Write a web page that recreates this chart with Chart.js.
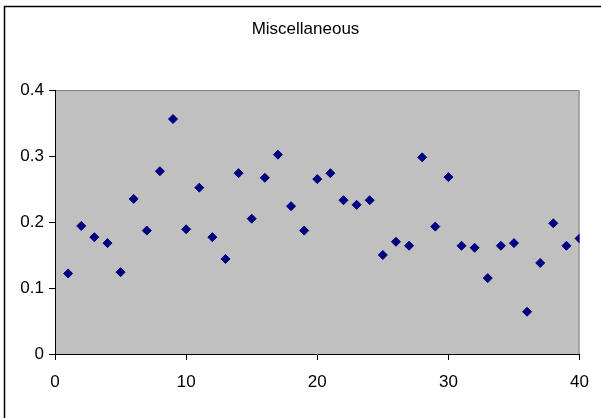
<!DOCTYPE html>
<html>
<head>
<meta charset="utf-8">
<script src="https://cdn.jsdelivr.net/npm/chart.js@4/dist/chart.umd.min.js"></script>
<style>
  html, body { margin: 0; padding: 0; background: #fff; }
  #wrap { width: 601px; height: 418px; }
</style>
</head>
<body>
<div id="wrap"><canvas id="chart" width="601" height="418"></canvas></div>
<script>
// sample index and measured value
let sampleNo = [1, 2, 3, 4, 5, 6, 7, 8, 9, 10,
                11, 12, 13, 14, 15, 16, 17, 18, 19, 20,
                21, 22, 23, 24, 25, 26, 27, 28, 29, 30,
                31, 32, 33, 34, 35, 36, 37, 38, 39, 40];
let values = [0.122, 0.194, 0.177, 0.168, 0.124, 0.235, 0.187, 0.277, 0.356, 0.189,
              0.252, 0.177, 0.144, 0.274, 0.205, 0.267, 0.302, 0.224, 0.187, 0.265,
              0.274, 0.233, 0.226, 0.233, 0.150, 0.170, 0.164, 0.298, 0.193, 0.268,
              0.164, 0.161, 0.115, 0.164, 0.168, 0.064, 0.138, 0.198, 0.164, 0.175];
let xTicks = [0, 10, 20, 30, 40];
let yTicks = [0, 0.1, 0.2, 0.3, 0.4];
let chartTitle = 'Miscellaneous';

const FONT = "'Liberation Sans', Arial, sans-serif";

// grey plot area with a light frame, the outer chart frame and the title
const plotArea = {
    id: 'plotArea',
    beforeDraw(chart) {
        const { ctx, chartArea: a } = chart;
        ctx.save();
        ctx.fillStyle = '#c0c0c0';
        ctx.fillRect(a.left, a.top, a.right - a.left, a.bottom - a.top);
        ctx.strokeStyle = '#808080';
        ctx.lineWidth = 1;
        ctx.beginPath();
        ctx.moveTo(a.left, a.top + 0.5);
        ctx.lineTo(a.right - 0.5, a.top + 0.5);
        ctx.lineTo(a.right - 0.5, a.bottom);
        ctx.stroke();
        ctx.restore();
    },
    afterDraw(chart) {
        const ctx = chart.ctx;
        ctx.save();
        ctx.strokeStyle = '#000';
        ctx.lineWidth = 1.5;
        ctx.beginPath();
        ctx.moveTo(4.5, 418);
        ctx.lineTo(4.5, 6.5);
        ctx.lineTo(601, 6.5);
        ctx.stroke();

        ctx.fillStyle = '#000';
        ctx.font = '17px ' + FONT;
        ctx.textAlign = 'center';
        ctx.textBaseline = 'middle';
        ctx.fillText(chartTitle, 305.5, 29);
        ctx.restore();
    }
};

const ctx = document.getElementById('chart').getContext('2d');
const chart = new Chart(ctx, {
    type: 'scatter',
    data: {
        datasets: [{
            label: chartTitle,
            data: sampleNo.map((x, i) => ({ x: x, y: values[i] })),
            backgroundColor: '#000080',
            borderColor: '#000080',
            borderWidth: 1,
            pointStyle: 'rectRot',
            pointRadius: 4.5,
            pointHoverRadius: 4.5
        }]
    },
    options: {
        responsive: false,
        animation: false,
        events: [],
        layout: { padding: { left: 0, right: 20, top: 90, bottom: 0 } },
        plugins: {
            legend: { display: false },
            tooltip: { enabled: false },
            title: { display: false }
        },
        scales: {
            x: {
                type: 'linear',
                min: xTicks[0],
                max: xTicks[xTicks.length - 1],
                afterBuildTicks: s => { s.ticks = xTicks.map(v => ({ value: v })); },
                afterFit: s => { s.height = 64; },
                border: { display: true, color: '#000', width: 1 },
                grid: { drawOnChartArea: false, drawTicks: true, tickLength: 6, color: '#000' },
                ticks: {
                    color: '#000',
                    padding: 12,
                    maxRotation: 0,
                    font: { family: FONT, size: 17 }
                }
            },
            y: {
                type: 'linear',
                min: yTicks[0],
                max: yTicks[yTicks.length - 1],
                afterBuildTicks: s => { s.ticks = yTicks.map(v => ({ value: v })); },
                afterFit: s => { s.width = 55; },
                border: { display: true, color: '#000', width: 1 },
                grid: { drawOnChartArea: false, drawTicks: true, tickLength: 6, color: '#000' },
                ticks: {
                    color: '#000',
                    padding: 5,
                    font: { family: FONT, size: 17 },
                    callback: v => String(v)
                }
            }
        }
    },
    plugins: [plotArea]
});
</script>
</body>
</html>
